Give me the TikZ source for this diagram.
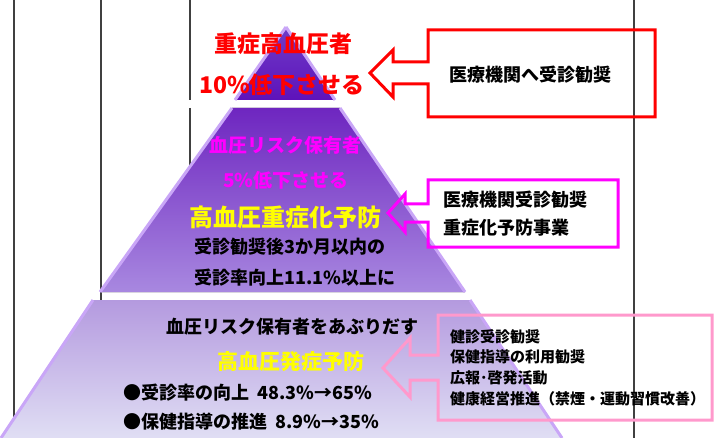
\documentclass[tikz,border=0pt]{standalone}
\usepackage{fontspec}
\newfontfamily\jpfont{Noto Sans CJK JP}
\usepackage{tikz}
\usetikzlibrary{positioning}

\definecolor{lvlone}{HTML}{5E12BA}
\definecolor{lvlonetop}{HTML}{6E3CC8}
\definecolor{lvltwotop}{HTML}{6E26C0}
\definecolor{lvltwobot}{HTML}{A888E0}
\definecolor{lvlthrtop}{HTML}{B49ADF}
\definecolor{lvlthrbot}{HTML}{E0DEF4}
\definecolor{rim}{HTML}{C9A6F7}
\definecolor{txtred}{HTML}{FF0000}
\definecolor{txtmag}{HTML}{FF00FF}
\definecolor{txtyel}{HTML}{FFFF00}
\definecolor{boxpink}{HTML}{FF99CC}
\definecolor{rule}{HTML}{404040}

\begin{document}
\begin{tikzpicture}[
			x=1pt, y=-1pt, % pixel grid of the page
			jt/.style={inner sep=0pt, font=\jpfont\bfseries\fontsize{#1}{#1}\selectfont},
			jt/.default=18,
			rimline/.style={rim, line width=3pt},
			callout/.style={line width=3pt, line join=miter}]
		\useasboundingbox (0,0) rectangle (719,438);
		% background rules
		\draw [rule, line width=1.4pt] (14,0) -- (14,438);
		\draw [rule, line width=1.4pt] (101,0) -- (101,300);
		\draw [rule, line width=1.4pt] (190,0) -- (190,100);
		\draw [rule, line width=1.4pt] (190,108) -- (190,170);
		\draw [rule, line width=1.4pt] (634,0) -- (634,438);
		% pyramid
		\fill [top color=lvlonetop, bottom color=lvlone] (286,27) -- (335,100) -- (235,100) -- cycle;
		\draw [rimline] (286,27) -- (235,100);
		\draw [rimline] (286,27) -- (335,100);
		\fill [top color=lvltwotop, bottom color=lvltwobot] (232,108) -- (340,108) -- (465,292) -- (100,292) -- cycle;
		\draw [rimline] (232,108) -- (100,292);
		\draw [rimline] (340,108) -- (465,292);
		\fill [top color=lvlthrtop, bottom color=lvlthrbot] (93,300) -- (470,300) -- (562,438) -- (1,438) -- cycle;
		\draw [rimline] (93,300) -- (1,438);
		\draw [rimline] (470,300) -- (562,438);
		% level texts
		\path 	(283,44)  node (t1a) [jt=23, txtred] {重症高血圧者}
		        (282,85)  node (t1b) [jt=23, txtred] {10\%低下させる}
		        (285,145) node (t2a) [jt=19, txtmag] {血圧リスク保有者}
		        (286,180) node (t2b) [jt=19, txtmag] {5\%低下させる}
		        (285,217) node (t2c) [jt=24, txtyel] {高血圧重症化予防}
		        (290,247) node (t2d) [jt=18] {受診勧奨後3か月以内の}
		        (295,278) node (t2e) [jt=18] {受診率向上11.1\%以上に}
		        (292,327) node (t3a) [jt=18] {血圧リスク保有者をあぶりだす}
		        (291,362) node (t3b) [jt=21, txtyel] {高血圧発症予防}
		        (123,393) node (t3c) [jt=18, anchor=west] {●受診率の向上~~48.3\%→65\%}
		        (123,422) node (t3d) [jt=18, anchor=west] {●保健指導の推進~~8.9\%→35\%};
		% callouts
		\draw [callout, txtred] (428,30) -- (655,30) -- (655,117) -- (428,117) -- (428,84)
		        -- (393,84) -- (393,97) -- (370,73) -- (393,50) -- (393,62) -- (428,62) -- cycle;
		\draw [callout, txtmag] (428,180) -- (618,180) -- (618,247) -- (428,247) -- (428,222)
		        -- (405,222) -- (405,232) -- (388,213) -- (405,194) -- (405,204) -- (428,204) -- cycle;
		\draw [callout, boxpink] (438,315) -- (712,315) -- (712,420) -- (438,420) -- (438,380)
		        -- (410,380) -- (410,397) -- (383,368) -- (410,338) -- (410,355) -- (438,355) -- cycle;
		\path 	(530,75)  node (c1)  [jt=18] {医療機関へ受診勧奨}
		        (443,200) node (c2a) [jt=18, anchor=west] {医療機関受診勧奨}
		        (443,228) node (c2b) [jt=18, anchor=west] {重症化予防事業}
		        (450,337) node (c3a) [jt=15, anchor=west] {健診受診勧奨}
		        (450,357) node (c3b) [jt=15, anchor=west] {保健指導の利用勧奨}
		        (450,378) node (c3c) [jt=15, anchor=west] {広報･啓発活動}
		        (450,399) node (c3d) [jt=15, anchor=west] {健康経営推進（禁煙・運動習慣改善）};
	\end{tikzpicture}
\end{document}
